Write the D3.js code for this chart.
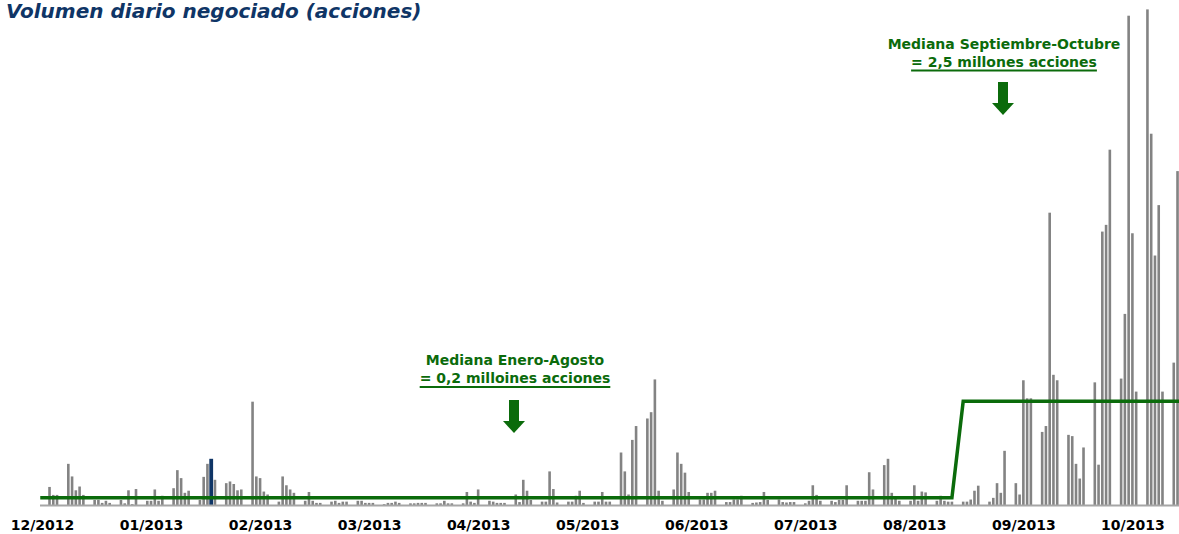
<!DOCTYPE html>
<html><head><meta charset="utf-8">
<script src="https://cdn.jsdelivr.net/npm/d3@7/dist/d3.min.js"></script>
<style>body{margin:0;background:#fff}svg{display:block}</style>
</head><body>
<svg id="chart" width="1179" height="534"></svg>
<script>
// ---------- DATA ----------
const chartTitle = "Volumen diario negociado (acciones)";
const firstDay = "2012-12-31";
const lastDay = "2013-10-29";
const axisEndDay = "2013-10-31";
const highlightDay = "2013-02-14";
// daily volume in millions of shares, one value per weekday (Mon..Fri) from firstDay
const volumes = [
  0.00,0.00,0.43,0.24,0.24,   // 31 Dec
  0.98,0.68,0.35,0.44,0.24,   // 07 Jan
  0.12,0.12,0.05,0.10,0.05,
  0.12,0.04,0.35,0.02,0.38,
  0.10,0.10,0.37,0.10,0.22,
  0.40,0.83,0.64,0.29,0.34,   // 04 Feb
  0.12,0.67,0.98,1.10,0.60,
  0.52,0.56,0.50,0.35,0.37,
  2.46,0.68,0.64,0.32,0.25,
  0.08,0.68,0.47,0.37,0.29,   // 04 Mar
  0.10,0.31,0.10,0.05,0.05,
  0.08,0.10,0.05,0.08,0.08,
  0.10,0.10,0.05,0.05,0.05,
  0.02,0.05,0.05,0.08,0.05,   // 01 Apr
  0.04,0.04,0.05,0.05,0.05,
  0.04,0.04,0.10,0.04,0.04,
  0.04,0.31,0.08,0.05,0.37,
  0.10,0.08,0.05,0.05,0.05,
  0.25,0.07,0.60,0.34,0.12,   // 06 May
  0.08,0.08,0.80,0.38,0.06,
  0.08,0.08,0.22,0.34,0.05,
  0.08,0.08,0.31,0.08,0.08,
  1.25,0.80,0.25,1.55,1.88,   // 03 Jun
  2.06,2.21,2.99,0.34,0.10,
  0.37,1.25,0.98,0.77,0.31,
  0.13,0.13,0.29,0.29,0.34,
  0.07,0.07,0.13,0.13,0.22,   // 01 Jul
  0.05,0.06,0.07,0.31,0.12,
  0.13,0.07,0.06,0.07,0.07,
  0.04,0.10,0.47,0.24,0.10,
  0.10,0.07,0.12,0.12,0.47,
  0.10,0.10,0.10,0.78,0.37,   // 05 Aug
  0.95,1.10,0.29,0.20,0.10,
  0.10,0.47,0.10,0.32,0.30,
  0.10,0.22,0.10,0.08,0.08,
  0.08,0.08,0.13,0.34,0.46,   // 02 Sep
  0.08,0.17,0.52,0.29,1.29,
  0.52,0.25,2.97,2.54,2.54,
  1.74,1.88,6.96,3.10,2.97,
  1.67,1.64,0.98,0.63,1.37,   // 30 Sep
  2.92,0.96,6.51,6.67,8.46,
  3.01,4.55,11.65,6.47,2.70,
  11.80,8.84,5.94,7.14,2.70,
  3.39,7.95
];
const medianBreakDay = "2013-09-01";
const medianValues = [0.17, 2.47];
const tickLabels = ["12/2012","01/2013","02/2013","03/2013","04/2013","05/2013",
                    "06/2013","07/2013","08/2013","09/2013","10/2013"];
const tickStepDays = 29;
const note1 = ["Mediana Enero-Agosto", "= 0,2 milloines acciones"];
const note2 = ["Mediana Septiembre-Octubre", "= 2,5 millones acciones"];
const yMax = 12;

// ---------- LAYOUT ----------
const W = 1179, H = 534;
const firstCenter = 42, dayStep = 3.76, baseY = 505, topY = 1;
const barW = 2.6;
const grey = "#838383", navy = "#0f3566", green = "#0b6b0b";
const font = "'DejaVu Sans', Verdana, sans-serif";

const parse = d3.utcParse("%Y-%m-%d");
const d0 = parse(firstDay), dEnd = parse(axisEndDay);
const days = d3.utcDay.range(d0, d3.utcDay.offset(parse(lastDay), 1))
  .filter(d => d.getUTCDay() !== 0 && d.getUTCDay() !== 6);
const rows = days.map((d, i) => ({date: d, v: volumes[i]}));

const x = d3.scaleUtc().domain([d0, dEnd])
  .range([firstCenter, firstCenter + d3.utcDay.count(d0, dEnd) * dayStep]);
const y = d3.scaleLinear().domain([0, yMax]).range([baseY, topY]);

const svg = d3.select("#chart");
svg.append("rect").attr("width", W).attr("height", H).attr("fill", "#fff");

// title
svg.append("text").attr("x", 6).attr("y", 17.5)
  .attr("font-family", font).attr("font-size", 20).attr("font-weight", "bold")
  .attr("font-style", "italic").attr("fill", navy).text(chartTitle);

// bars
const hl = parse(highlightDay).getTime();
svg.append("g").selectAll("rect").data(rows.filter(r => r.v > 0)).join("rect")
  .attr("x", r => x(r.date) - (r.date.getTime() === hl ? 1.9 : barW / 2))
  .attr("width", r => r.date.getTime() === hl ? 3.8 : barW)
  .attr("y", r => y(r.v))
  .attr("height", r => y(0) - y(r.v))
  .attr("fill", r => r.date.getTime() === hl ? navy : grey);

// baseline
svg.append("line").attr("x1", 40).attr("x2", W).attr("y1", baseY + 0.5).attr("y2", baseY + 0.5)
  .attr("stroke", "#a6a6a6").attr("stroke-width", 2);

// x axis labels
const tickDates = tickLabels.map((_, i) => d3.utcDay.offset(d0, i * tickStepDays));
const axis = d3.axisBottom(x).tickValues(tickDates).tickFormat((d, i) => tickLabels[i])
  .tickSize(0).tickPadding(15);
const ag = svg.append("g").attr("transform", `translate(0,${baseY})`).call(axis);
ag.select(".domain").remove();
ag.selectAll("text").attr("font-family", font).attr("font-size", 14)
  .attr("font-weight", "bold").attr("fill", "#000");

// median line
const brk = parse(medianBreakDay);
const line = d3.line().x(r => x(r.date)).y(r => y(r.date < brk ? medianValues[0] : medianValues[1]));
svg.append("path").datum(rows).attr("d", line).attr("fill", "none")
  .attr("stroke", green).attr("stroke-width", 3.5).attr("stroke-linejoin", "miter")
  .attr("stroke-linecap", "square");

// annotations
function note(lines, cx, y1, y2, ul, ax, aTop, aMid, aTip) {
  const g = svg.append("g").attr("font-family", font).attr("font-size", 14)
    .attr("font-weight", "bold").attr("fill", green).attr("text-anchor", "middle");
  g.append("text").attr("x", cx).attr("y", y1).text(lines[0]);
  const t2 = g.append("text").attr("x", cx).attr("y", y2).text(lines[1]);
  const w = t2.node().getComputedTextLength();
  g.append("rect").attr("x", cx - w / 2).attr("width", w).attr("y", ul).attr("height", 2).attr("fill", green);
  g.append("rect").attr("x", ax - 5).attr("width", 10).attr("y", aTop).attr("height", aMid - aTop).attr("fill", green);
  g.append("path").attr("d", `M${ax - 11},${aMid}L${ax + 11},${aMid}L${ax},${aTip}Z`).attr("fill", green);
}
note(note1, 515, 365, 382.5, 386, 514, 400, 421, 433);
note(note2, 1004, 48.5, 67, 69.5, 1003, 82, 103, 115);
</script>
</body></html>
